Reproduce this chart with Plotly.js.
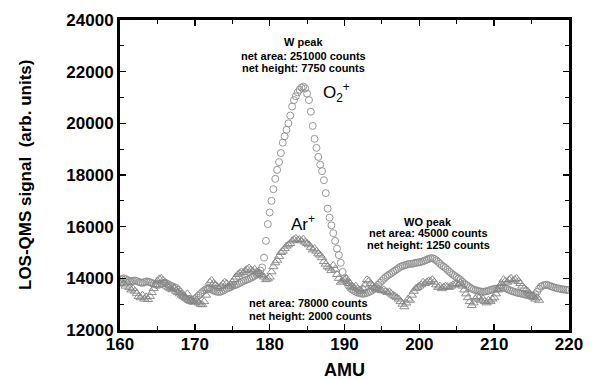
<!DOCTYPE html>
<html>
<head>
<meta charset="utf-8">
<script src="https://cdn.plot.ly/plotly-3.0.1.min.js"></script>
<style>
html,body{margin:0;padding:0;background:#fff;}
#chart{width:593px;height:380px;}
</style>
</head>
<body>
<div id="chart"></div>
<script>
// AMU grid: O2+ from 160 to 220, Ar+ from 160 to 216, step 0.25 AMU
const amuStart = 160;
const amuStep = 0.25;

// O2+ (circles) signal, arb. units
const o2Signal = [
  13950,13980,14000,13970,13930,13900,13880,13900,13920,13890,13860,13840,13820,13850,13880,13870,13850,13820,13790,13760,
  13740,13760,13790,13810,13830,13800,13760,13720,13690,13660,13620,13560,13480,13390,13300,13220,13170,13140,13130,13160,
  13200,13260,13330,13400,13470,13530,13580,13600,13590,13560,13530,13500,13480,13470,13490,13520,13560,13600,13630,13660,
  13700,13730,13750,13780,13820,13860,13900,13930,13950,13980,14020,14060,14100,14150,14220,14300,14420,14800,15450,16100,
  16550,17000,17450,17850,18200,18500,18850,19250,19500,19750,20000,20300,20650,20900,21050,21200,21300,21380,21420,21350,
  21150,20900,20450,19900,19400,19050,18700,18400,18150,17800,17300,16700,16350,16050,15750,15450,15150,14900,14600,14250,
  14000,13850,13720,13630,13570,13520,13480,13450,13430,13410,13400,13420,13440,13470,13500,13550,13600,13670,13750,13830,
  13900,13980,14050,14100,14150,14200,14250,14300,14350,14400,14450,14480,14500,14520,14550,14560,14560,14580,14600,14610,
  14620,14640,14660,14690,14720,14750,14780,14780,14750,14700,14640,14570,14500,14450,14400,14330,14260,14200,14140,14090,
  14040,13990,13940,13870,13800,13750,13700,13650,13600,13570,13540,13520,13500,13490,13480,13490,13500,13520,13550,13570,
  13590,13600,13610,13630,13650,13640,13620,13590,13550,13520,13500,13470,13450,13430,13420,13400,13380,13360,13350,13320,
  13300,13320,13380,13480,13600,13680,13720,13740,13750,13730,13700,13680,13650,13630,13610,13600,13580,13570,13560,13550,
  13550
];

// Ar+ (triangles) signal, arb. units
const arSignal = [
  13800,13850,13780,13700,13820,13650,13550,13600,13500,13420,13300,13250,13350,13200,13280,13180,13300,13450,13600,13750,
  13900,13980,14000,13920,13850,13700,13650,13600,13560,13620,13500,13450,13400,13350,13300,13250,13400,13200,13150,13100,
  13080,13150,13050,13000,12980,13100,13350,13600,13850,13920,13800,13750,13680,13620,13700,13780,13850,13800,13700,13750,
  13850,13950,14050,14150,14200,14250,14220,14300,14350,14400,14320,14280,14350,14250,14200,14150,14100,14050,13950,13980,
  14050,14250,14450,14600,14700,14850,15000,15050,15150,15250,15300,15350,15450,15500,15550,15480,15500,15450,15520,15400,
  15350,15300,15200,15100,15150,15050,14950,14900,14800,14650,14550,14450,14400,14300,14500,14350,14150,14000,13850,13900,
  13950,14000,13880,13800,13700,13650,13700,13600,13550,13500,13600,13750,13950,13900,13800,13700,13650,13600,13580,13550,
  13520,13550,13500,13450,13480,13400,13350,13300,13250,13200,13100,13000,12900,13050,13200,13150,13350,13500,13600,13650,
  13700,13750,13850,13800,13850,13900,13880,13950,13850,13750,13650,13700,13600,13650,13700,13680,13650,13700,13750,13780,
  13800,13750,13820,13700,13550,13400,13250,13100,12950,13050,13200,13300,13250,13150,13200,13100,13050,13150,13100,13200,
  13250,13400,13550,13700,13800,13950,13900,13850,13950,14000,13900,13950,14000,13880,13800,13700,13600,13550,13500,13400,
  13350,13300,13200,13250,
  13150
];

const xTickVals = [160,170,180,190,200,210,220];
const yTickVals = [12000,14000,16000,18000,20000,22000,24000];

const FONT = 'Liberation Sans, Arial, Helvetica, sans-serif';

const traces = [
  {
    type: 'scatter', mode: 'markers', name: 'O2+',
    x0: amuStart, dx: amuStep, y: o2Signal,
    marker: {symbol: 'circle-open', size: 7, color: '#8c8c8c', line: {width: 0.9, color: '#8c8c8c'}}
  },
  {
    type: 'scatter', mode: 'markers', name: 'Ar+',
    x0: amuStart, dx: amuStep, y: arSignal,
    marker: {symbol: 'triangle-up-open', size: 8, color: '#858585', line: {width: 0.9, color: '#858585'}}
  }
];

const axisCommon = {
  showgrid: false, zeroline: false, showline: true, linewidth: 3, linecolor: '#000',
  mirror: 'ticks', ticks: 'inside', ticklen: 6, tickwidth: 1.5, tickcolor: '#000',
  tickfont: {family: FONT, size: 17, weight: 'bold', color: '#000'}
};

function ann(text, x, y, opts) {
  return Object.assign({
    text: text, x: x, y: y, xref: 'x', yref: 'y', showarrow: false,
    font: {family: FONT, size: 11, weight: 'bold', color: '#000'},
    xanchor: 'center', yanchor: 'middle'
  }, opts || {});
}

const layout = {
  width: 593, height: 380,
  margin: {l: 120, r: 24, t: 20, b: 50},
  paper_bgcolor: '#fff', plot_bgcolor: '#fff',
  showlegend: false,
  xaxis: Object.assign({}, axisCommon, {
    range: [160, 220], tickvals: xTickVals, ticktext: xTickVals.map(String),
    minor: {dtick: 5, tick0: 160, ticks: 'inside', ticklen: 4, tickwidth: 1, tickcolor: '#000'},
    ticklabelstandoff: -3,
    title: {text: 'AMU', font: {family: FONT, size: 18, weight: 'bold', color: '#000'}}
  }),
  yaxis: Object.assign({}, axisCommon, {
    range: [12000, 24000], tickvals: yTickVals, ticktext: yTickVals.map(String),
    minor: {dtick: 1000, tick0: 12000, ticks: 'inside', ticklen: 4, tickwidth: 1, tickcolor: '#000'},
    ticklabelstandoff: 0
  }),
  annotations: [
    ann('LOS-QMS signal  (arb. units)', -0.2116, 0.5, {xref: 'paper', yref: 'paper', textangle: -90,
      font: {family: FONT, size: 17, weight: 'bold', color: '#000'}}),
    ann('W peak', 184.53, 23137),
    ann('net area: 251000 counts', 184.53, 22618),
    ann('net height: 7750 counts', 184.53, 22130),
    ann('O<sub>2</sub><sup>+</sup>', 188.9, 21213, {font: {family: FONT, size: 17, color: '#000'}}),
    ann('Ar<sup>+</sup>', 184.5, 16142, {font: {family: FONT, size: 17, color: '#000'}}),
    ann('WO peak', 201.18, 16192),
    ann('net area: 45000 counts', 201.18, 15743),
    ann('net height: 1250 counts', 201.18, 15290),
    ann('net area: 78000 counts', 176.98, 13033, {xanchor: 'left'}),
    ann('net height: 2000 counts', 176.98, 12542, {xanchor: 'left'})
  ]
};

Plotly.newPlot('chart', traces, layout, {displayModeBar: false, staticPlot: true});
</script>
</body>
</html>
